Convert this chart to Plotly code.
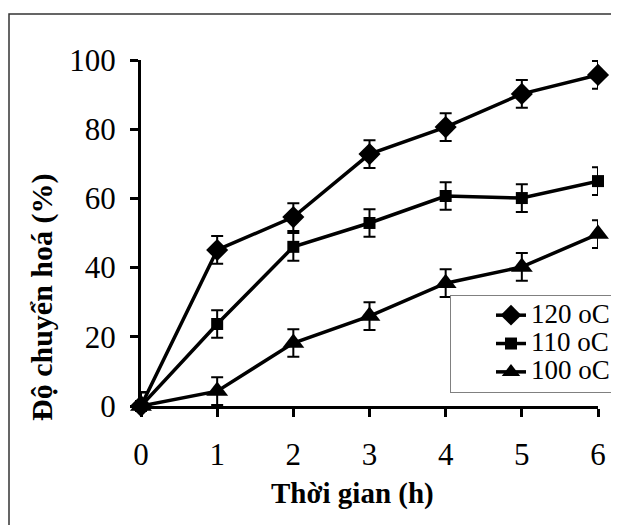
import plotly.graph_objects as go

time_h = [0, 1, 2, 3, 4, 5, 6]
series_names = ["120 oC", "110 oC", "100 oC"]
conv_120 = [0, 45.1, 54.6, 72.8, 80.6, 90.2, 95.7]
conv_110 = [0, 23.7, 46.0, 52.9, 60.7, 60.1, 65.0]
conv_100 = [0, 4.3, 18.2, 26.0, 35.5, 40.2, 49.7]
err_120 = [4, 4, 4, 4, 4, 4, 4]
err_110 = [4, 4, 4, 4, 4, 4, 4]
err_100 = [4, 4, 4, 4, 4, 4, 4]
y_ticks = [0, 20, 40, 60, 80, 100]
x_ticks = [0, 1, 2, 3, 4, 5, 6]

FONT = "Liberation Serif"

# page is offset by the 8px body margin; plot area spans 457 x 346 px
L, T, W, H = 133, 52, 457, 346

fig = go.Figure()
series = [
    (series_names[0], conv_120, err_120, "diamond", 17),
    (series_names[1], conv_110, err_110, "square", 12),
    (series_names[2], conv_100, err_100, "triangle-up", 19),
]
for name, ys, es, sym, sz in series:
    fig.add_trace(go.Scatter(
        x=time_h, y=ys, name='<span style="font-size:27px">%s</span>' % name,
        mode="lines+markers",
        line=dict(color="black", width=3.5),
        marker=dict(symbol=sym, size=sz, color="black"),
        error_y=dict(type="data", array=es, visible=True, color="black",
                     thickness=2, width=6),
        cliponaxis=False,
    ))

def px(xp):
    return (xp - 8 - L) / W

def py(yp):
    return (T + H - (yp - 8)) / H

fig.update_layout(
    width=619, height=525,
    margin=dict(l=L, r=619 - L - W, t=T, b=525 - T - H, autoexpand=False),
    paper_bgcolor="white", plot_bgcolor="white",
    font=dict(family=FONT, color="black", size=28),
    showlegend=True,
    legend=dict(
        x=px(450), y=py(295), xanchor="left", yanchor="top",
        bordercolor="#808080", borderwidth=1, bgcolor="white",
        font=dict(family=FONT, size=19.5, color="black"),
        indentation=40, tracegroupgap=0,
    ),
    xaxis=dict(
        range=[0, 6], tickvals=x_ticks, showgrid=False, zeroline=False,
        showline=True, linecolor="black", linewidth=3,
        ticks="outside", ticklen=8, tickwidth=3, tickcolor="black",
        tickfont=dict(family=FONT, size=31), ticklabelstandoff=11,
    ),
    yaxis=dict(
        range=[0, 100], tickvals=y_ticks, showgrid=False, zeroline=False,
        showline=True, linecolor="black", linewidth=3,
        ticks="outside", ticklen=8, tickwidth=3, tickcolor="black",
        tickfont=dict(family=FONT, size=31), ticklabelstandoff=8,
    ),
    shapes=[dict(type="rect", xref="paper", yref="paper",
                 x0=px(9), x1=px(660),
                 y0=py(560), y1=py(14),
                 line=dict(color="#333333", width=1.5), layer="below")],
    annotations=[
        dict(text="<b>Thời gian (h)</b>", xref="paper", yref="paper",
             x=px(352), y=py(493), showarrow=False, xanchor="center", yanchor="middle",
             font=dict(family=FONT, size=29)),
        dict(text="<b>Độ chuyển hoá (%)</b>", xref="paper", yref="paper",
             x=px(42), y=py(297), showarrow=False, textangle=-90,
             xanchor="center", yanchor="middle",
             font=dict(family=FONT, size=30)),
    ],
)

fig.write_html("out.html")
